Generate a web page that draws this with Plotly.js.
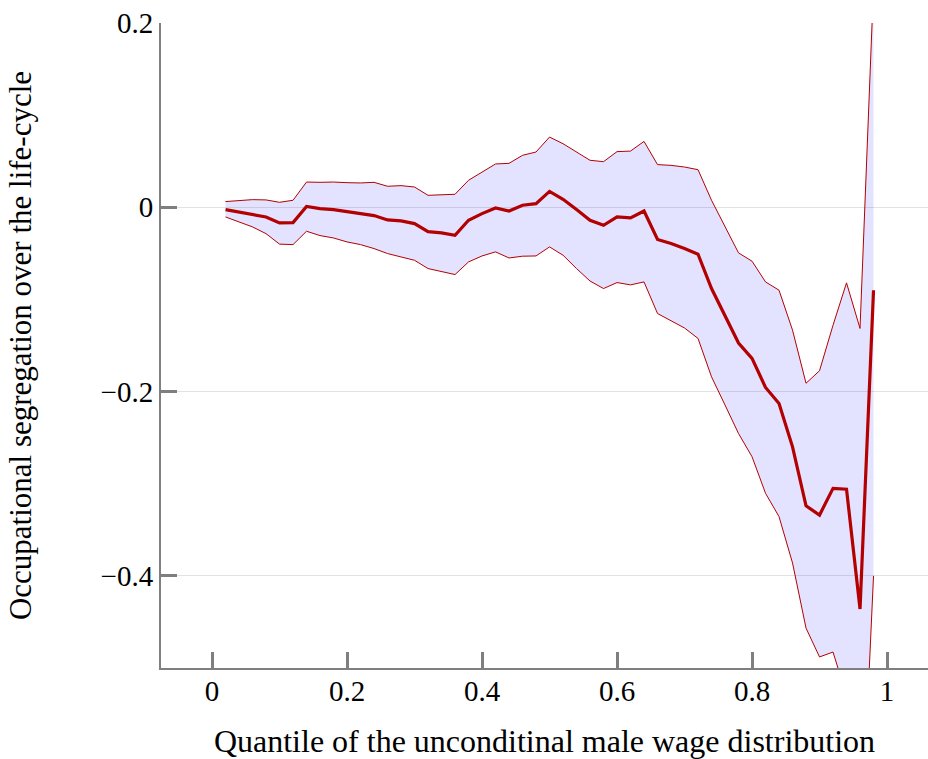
<!DOCTYPE html>
<html>
<head>
<meta charset="utf-8">
<script src="https://cdn.plot.ly/plotly-3.0.1.min.js"></script>
<style>html,body{margin:0;padding:0;background:#fff;}#chart{width:928px;height:759px;}</style>
</head>
<body>
<div id="chart"></div>
<script>
const quantiles = [0.02,0.04,0.06,0.08,0.10,0.12,0.14,0.16,0.18,0.20,0.22,0.24,0.26,0.28,0.30,0.32,0.34,0.36,0.38,0.40,0.42,0.44,0.46,0.48,0.50,0.52,0.54,0.56,0.58,0.60,0.62,0.64,0.66,0.68,0.70,0.72,0.74,0.76,0.78,0.80,0.82,0.84,0.86,0.88,0.90,0.92,0.94,0.96,0.98];
const estimate = [-0.0025,-0.005,-0.0076,-0.0105,-0.017,-0.0166,0.001,-0.0015,-0.0025,-0.0047,-0.0069,-0.009,-0.0137,-0.0148,-0.0177,-0.0264,-0.0278,-0.0304,-0.0141,-0.0069,-0.0007,-0.004,0.0022,0.004,0.0173,0.0087,-0.0025,-0.0141,-0.0195,-0.0105,-0.0116,-0.004,-0.035,-0.0394,-0.0448,-0.051,-0.0882,-0.117,-0.1473,-0.164,-0.1955,-0.213,-0.260,-0.324,-0.334,-0.305,-0.306,-0.436,-0.090];
const upperBound = [0.0062,0.0076,0.0083,0.008,0.0054,0.0076,0.0274,0.0271,0.0274,0.0267,0.0264,0.0271,0.0228,0.0235,0.022,0.013,0.0134,0.0141,0.0293,0.0383,0.047,0.0477,0.0564,0.060,0.0762,0.069,0.060,0.051,0.0495,0.0604,0.061,0.0715,0.0463,0.0455,0.0437,0.0408,0.0076,-0.0213,-0.0495,-0.0585,-0.081,-0.090,-0.1333,-0.191,-0.1774,-0.128,-0.082,-0.1315,0.24];
const lowerBound = [-0.0105,-0.016,-0.0213,-0.0286,-0.040,-0.0405,-0.026,-0.0307,-0.0333,-0.0376,-0.0405,-0.0448,-0.0502,-0.0539,-0.0575,-0.0665,-0.070,-0.073,-0.0593,-0.0528,-0.0484,-0.055,-0.0531,-0.0528,-0.043,-0.052,-0.0665,-0.080,-0.0882,-0.0817,-0.0842,-0.081,-0.1153,-0.123,-0.131,-0.1423,-0.184,-0.2146,-0.2455,-0.2707,-0.3104,-0.3357,-0.386,-0.4567,-0.488,-0.4827,-0.53,-0.72,-0.40];
const xTicks = [0,0.2,0.4,0.6,0.8,1];
const xTickText = ['0','0.2','0.4','0.6','0.8','1'];
const yTicks = [-0.4,-0.2,0,0.2];
const yTickText = ['\u22120.4','\u22120.2','0','0.2'];

const red = '#b30000';
const FONT = '"Liberation Serif", "DejaVu Serif", serif';

const traces = [
  {x: quantiles, y: lowerBound, mode: 'lines', line: {width: 0, color: red}, hoverinfo: 'skip', showlegend: false},
  {x: quantiles, y: upperBound, mode: 'lines', line: {width: 0, color: red}, fill: 'tonexty', fillcolor: 'rgba(0,0,255,0.11)', hoverinfo: 'skip', showlegend: false},
  {x: quantiles, y: lowerBound, mode: 'lines', line: {width: 1, color: red}, showlegend: false},
  {x: quantiles, y: upperBound, mode: 'lines', line: {width: 1, color: red}, showlegend: false},
  {x: quantiles, y: estimate, mode: 'lines', line: {width: 3.2, color: red}, showlegend: false}
];

const layout = {
  width: 928, height: 759,
  margin: {l: 161, r: 0, t: 23, b: 91},
  paper_bgcolor: '#ffffff', plot_bgcolor: '#ffffff',
  font: {family: FONT, size: 29, color: '#000'},
  showlegend: false,
  xaxis: {
    range: [-0.0756, 1.0607],
    tickvals: xTicks, ticktext: xTickText,
    ticks: 'inside', ticklen: 16, tickwidth: 3, tickcolor: '#7f7f7f',
    ticklabelstandoff: -4,
    showline: true, linecolor: '#7f7f7f', linewidth: 2,
    showgrid: false, zeroline: false,
    tickfont: {family: FONT, size: 29, color: '#000'},
    title: {text: 'Quantile of the unconditinal male wage distribution', font: {family: FONT, size: 32, color: '#000'}, standoff: 28}
  },
  yaxis: {
    range: [-0.5, 0.2],
    tickvals: yTicks, ticktext: yTickText,
    ticks: 'inside', ticklen: 16, tickwidth: 3, tickcolor: '#7f7f7f',
    showline: true, linecolor: '#7f7f7f', linewidth: 2,
    showgrid: true, gridcolor: '#e2e2e2', gridwidth: 1, zeroline: false,
    tickfont: {family: FONT, size: 29, color: '#000'},
    title: {text: 'Occupational segregation over the life-cycle', font: {family: FONT, size: 31, color: '#000'}, standoff: 60}
  }
};

Plotly.newPlot('chart', traces, layout, {displayModeBar: false, staticPlot: true});
</script>
</body>
</html>
